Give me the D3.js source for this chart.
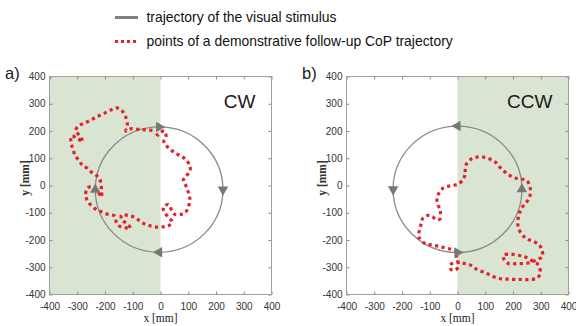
<!DOCTYPE html>
<html><head><meta charset="utf-8">
<script src="https://cdn.jsdelivr.net/npm/d3@7"></script>
<style>
html,body{margin:0;padding:0;background:#fff;}
svg{display:block;}
</style></head>
<body>
<svg id="chart" width="576" height="326"></svg>
<script>
// ---- data ----
const axisTicks = [-400,-300,-200,-100,0,100,200,300,400];
const panelNames = ["a)", "b)"];
const directionNames = ["CW", "CCW"];
const legendLabels = ["trajectory of the visual stimulus", "points of a demonstrative follow-up CoP trajectory"];
const axisTitles = ["x [mm]", "y [mm]"];
// shaded half-plane (x range) per panel
const shadeA = [-400, 0];
const shadeB = [0, 400];
// stimulus circle: centre x, centre y, radius (mm)
const circleA = [-5, -15, 230];
const circleB = [0, -14, 232];
// arrows: angle on circle (deg, math convention), pointing rotation (deg)
const arrowsA = [[90, 90], [0, 180], [270, 270], [180, 0]];
const arrowsB = [[90, -90], [180, 180], [270, 90], [0, 0]];
// CoP trajectories (mm)
const trajA = [
[-29,202],[-54,204],[-80,206],[-107,208],[-125,200],[-119,218],[-122,238],[-128,258],[-140,275],[-158,285],
[-183,275],[-205,264],[-228,253],[-250,241],[-273,229],[-296,219],[-306,200],[-292,184],[-280,160],[-298,172],[-320,182],
[-323,160],[-317,138],[-309,114],[-297,95],[-284,78],[-268,66],[-250,50],[-232,38],
[-220,25],[-214,5],[-213,-20],[-212,-42],[-228,-20],[-245,-6],[-262,-8],[-270,-36],[-262,-58],[-249,-74],[-232,-88],[-213,-96],
[-189,-106],[-165,-112],[-160,-132],[-150,-148],[-128,-155],[-108,-157],[-122,-140],[-140,-125],[-140,-108],[-117,-110],[-95,-116],
[-80,-126],[-65,-137],[-44,-146],[-20,-152],[6,-152],[28,-148],[42,-134],[30,-118],[15,-100],[10,-80],[28,-70],[40,-90],[52,-106],
[70,-106],[88,-101],[100,-79],[106,-54],[100,-24],[91,0],[82,18],[92,34],[106,52],[106,72],[94,92],[76,107],[52,119],[34,135],
[19,148],[12,162],[20,180],[14,200],[0,195],[-10,185],[-16,197]
];
const trajB = [
[28,49],[30,74],[48,96],[70,104],[94,104],[115,98],[136,86],[152,68],[168,52],[186,38],[205,28],[228,24],[250,18],[262,-10],
[260,-42],[248,-62],[232,-82],[222,-105],[218,-128],[220,-158],[244,-192],[272,-205],[292,-215],[305,-238],[305,-262],
[285,-272],[262,-283],[238,-286],[210,-287],[185,-287],[168,-272],[166,-256],[190,-252],[218,-256],[244,-262],[268,-276],
[292,-292],[298,-322],[286,-340],[260,-345],[232,-345],[190,-344],[148,-341],[106,-323],[65,-305],[41,-289],[18,-285],
[-2,-280],[-26,-292],[-24,-308],[-8,-310],[4,-296],[-4,-262],[0,-243],[-20,-235],[-45,-229],[-69,-223],[-95,-218],[-117,-213],
[-140,-188],[-137,-164],[-130,-138],[-125,-120],[-108,-110],[-92,-113],[-78,-124],[-64,-124],[-62,-105],[-62,-91],[-70,-72],
[-74,-54],[-68,-30],[-50,-8],[-30,-2],[-14,1],[4,6],[22,25],[28,49]
];

// ---- styles ----
const GREEN = "#d9e4d2", RED = "#e1222b", GRAY = "#8a8a8a", FRAME = "#a0a0a0";
const SANS = "'Liberation Sans', Arial, sans-serif";
const SERIF = "'Liberation Serif', 'Times New Roman', serif";
const tickFmt = d => String(d);

const svg = d3.select("#chart");
svg.append("rect").attr("width",576).attr("height",326).attr("fill","#fff");

// ---- legend ----
const lg = svg.append("g");
lg.append("line").attr("x1",115).attr("x2",138).attr("y1",17.5).attr("y2",17.5)
  .attr("stroke","#808080").attr("stroke-width",3);
lg.append("line").attr("x1",115).attr("x2",138).attr("y1",41.5).attr("y2",41.5)
  .attr("stroke",RED).attr("stroke-width",3).attr("stroke-dasharray","3,3");
lg.selectAll("text.lg").data(legendLabels).join("text")
  .attr("x",146.5).attr("y",(d,i)=>21.8+i*24.2)
  .attr("font-family",SANS).attr("font-size",13.9).attr("fill","#111").text(d=>d);

const yScale = d3.scaleLinear([-400,400],[294.5,76.5]);

function panel(x0, x1, shade, circ, arrows, traj, name, dir) {
  const x = d3.scaleLinear([-400,400],[x0,x1]);
  const y = yScale;
  const g = svg.append("g");
  // shaded half
  g.append("rect").attr("x",x(shade[0])).attr("y",y(400))
    .attr("width",x(shade[1])-x(shade[0])).attr("height",y(-400)-y(400)).attr("fill",GREEN);
  // axes
  const bx = g.append("g").attr("transform",`translate(0,${y(-400)})`)
    .call(d3.axisBottom(x).tickValues(axisTicks).tickSizeInner(-3).tickSizeOuter(0).tickPadding(8).tickFormat(tickFmt));
  const lx = g.append("g").attr("transform",`translate(${x(-400)},0)`)
    .call(d3.axisLeft(y).tickValues(axisTicks).tickSizeInner(-3).tickSizeOuter(0).tickPadding(4).tickFormat(tickFmt));
  const tx = g.append("g").attr("transform",`translate(0,${y(400)})`)
    .call(d3.axisTop(x).tickValues(axisTicks).tickSizeInner(-3).tickSizeOuter(0).tickFormat(""));
  const rx = g.append("g").attr("transform",`translate(${x(400)},0)`)
    .call(d3.axisRight(y).tickValues(axisTicks).tickSizeInner(-3).tickSizeOuter(0).tickFormat(""));
  [bx,lx,tx,rx].forEach(a=>{
    a.select(".domain").remove();
    a.selectAll("line").attr("stroke","#888");
    a.selectAll("text").attr("font-family",SANS).attr("font-size",10).attr("fill","#333");
  });
  // frame
  g.append("rect").attr("x",x(-400)).attr("y",y(400))
    .attr("width",x(400)-x(-400)).attr("height",y(-400)-y(400))
    .attr("fill","none").attr("stroke",FRAME).attr("stroke-width",1);
  // circle
  g.append("ellipse").attr("cx",x(circ[0])).attr("cy",y(circ[1]))
    .attr("rx",x(circ[0]+circ[2])-x(circ[0])).attr("ry",y(circ[1])-y(circ[1]+circ[2]))
    .attr("fill","none").attr("stroke",GRAY).attr("stroke-width",1.3);
  // trajectory
  const line = d3.line().x(d=>x(d[0])).y(d=>y(d[1])).curve(d3.curveCatmullRom.alpha(0.5));
  g.append("path").attr("d",line(traj)).attr("fill","none").attr("stroke",RED)
    .attr("stroke-width",3.2).attr("stroke-dasharray","3.2,3.4");
  // arrows
  const sym = d3.symbol(d3.symbolTriangle, 48);
  g.selectAll("path.arrow").data(arrows).join("path").attr("class","arrow")
    .attr("d",sym()).attr("fill","#777")
    .attr("transform",d=>{
      const a = d[0]*Math.PI/180;
      return `translate(${x(circ[0]+circ[2]*Math.cos(a))},${y(circ[1]+circ[2]*Math.sin(a))}) rotate(${d[1]})`;
    });
  // direction label
  g.append("text").attr("x",x(400)-16).attr("y",108).attr("text-anchor","end")
    .attr("font-family",SANS).attr("font-size",19).attr("fill","#1a1a1a").text(dir);
  // panel label
  g.append("text").attr("x",x(-400)-44.5).attr("y",79).attr("font-family",SANS)
    .attr("font-size",16.5).attr("fill","#1a1a1a").text(name);
  // axis titles
  g.append("text").attr("x",x(0)).attr("y",322).attr("text-anchor","middle")
    .attr("font-family",SERIF).attr("font-size",11.5).attr("fill","#222").text(axisTitles[0]);
  g.append("text").attr("transform",`translate(${x(-400)-21},${178}) rotate(-90)`)
    .attr("text-anchor","middle").attr("font-family",SERIF).attr("font-weight","bold")
    .attr("font-size",11.5).attr("fill","#333").text(axisTitles[1]);
}

panel(49.5, 271.5, shadeA, circleA, arrowsA, trajA, panelNames[0], directionNames[0]);
panel(346.5, 568.5, shadeB, circleB, arrowsB, trajB, panelNames[1], directionNames[1]);
</script>
</body></html>
